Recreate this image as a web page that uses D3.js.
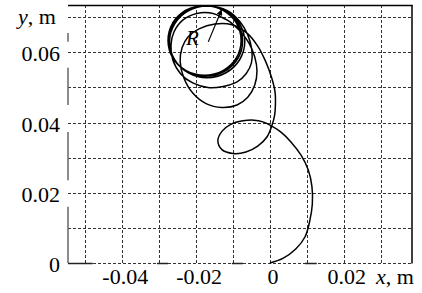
<!DOCTYPE html>
<html>
<head>
<meta charset="utf-8">
<script src="https://cdn.jsdelivr.net/npm/d3@7"></script>
<style>
  html, body { margin: 0; padding: 0; background: #fff; }
  svg { display: block; }
</style>
</head>
<body>
<svg id="chart" width="422" height="293"></svg>
<script>
// tick values & labels
const xTicks = [-0.04, -0.02, 0, 0.02];
const yTicks = [0, 0.02, 0.04, 0.06];
const xGrid = [-0.05, -0.04, -0.03, -0.02, -0.01, 0, 0.01, 0.02, 0.03];
const yGrid = [0, 0.01, 0.02, 0.03, 0.04, 0.05, 0.06, 0.07];

// pieces of the (scanned) axis lines that are still solid
const leftAxisBits = [[0.0630, 0.0655], [0.0450, 0.0556], [0.0236, 0.0373], [0, 0.0160]];
const bottomAxisBits = [[-0.0547, -0.0480], [-0.0306, -0.0276], [-0.0103, -0.0073], [0.0095, 0.0127]];

// trajectory x, y (m)
const path = [
  // first arc
  [0, 0], [0.0035, 0.0013], [0.0070, 0.0040], [0.0095, 0.0074], [0.0108, 0.0120],
  [0.0115, 0.0168], [0.0114, 0.0217], [0.0104, 0.0265], [0.0084, 0.0308],
  [0.0057, 0.0345], [0.0030, 0.0373], [0.0005, 0.0390],
  // small loop
  [-0.0019, 0.0402], [-0.0043, 0.0407], [-0.0073, 0.0405], [-0.0106, 0.0395],
  [-0.0130, 0.0375], [-0.0141, 0.0348], [-0.0130, 0.0323], [-0.0100, 0.0312],
  [-0.0065, 0.0316], [-0.0033, 0.0333], [-0.0008, 0.0359], [0.0005, 0.0390],
  [0.0013, 0.0422],
  // second loop
  [0.0015, 0.0453], [0.0014, 0.0487], [0.0005, 0.0527], [-0.0011, 0.0573],
  [-0.0033, 0.0618], [-0.0062, 0.0655], [-0.0103, 0.0679], [-0.0149, 0.0681],
  [-0.0192, 0.0667], [-0.0222, 0.0644], [-0.0238, 0.0613], [-0.0243, 0.0573],
  [-0.0233, 0.0527], [-0.0209, 0.0484], [-0.0173, 0.0454], [-0.0130, 0.0443],
  [-0.0089, 0.0450], [-0.0060, 0.0472], [-0.0041, 0.0507], [-0.0035, 0.0547],
  [-0.0041, 0.0587], [-0.0057, 0.0627], [-0.0081, 0.0661], [-0.0108, 0.0687],
  // third loop
  [-0.0127, 0.0698], [-0.0154, 0.0711], [-0.0198, 0.0711], [-0.0236, 0.0692],
  [-0.0260, 0.0658], [-0.0268, 0.0621], [-0.0263, 0.0578], [-0.0241, 0.0538],
  [-0.0209, 0.0513], [-0.0168, 0.0500], [-0.0127, 0.0503], [-0.0089, 0.0516],
  [-0.0064, 0.0540], [-0.0050, 0.0570], [-0.0049, 0.0607], [-0.0060, 0.0650],
  [-0.0081, 0.0687], [-0.0114, 0.0718],
  // settled circle, several turns
  [-0.0170, 0.0732], [-0.0221, 0.0718], [-0.0258, 0.0681], [-0.0272, 0.0630],
  [-0.0258, 0.0579], [-0.0221, 0.0542], [-0.0170, 0.0528], [-0.0119, 0.0542],
  [-0.0082, 0.0579], [-0.0068, 0.0630], [-0.0082, 0.0681], [-0.0119, 0.0718],
  [-0.0174, 0.0732], [-0.0224, 0.0719], [-0.0261, 0.0682], [-0.0274, 0.0632],
  [-0.0261, 0.0582], [-0.0224, 0.0545], [-0.0174, 0.0532], [-0.0124, 0.0545],
  [-0.0087, 0.0582], [-0.0074, 0.0632], [-0.0087, 0.0682], [-0.0124, 0.0719],
  [-0.0177, 0.0733], [-0.0227, 0.0720], [-0.0263, 0.0684], [-0.0276, 0.0634],
  [-0.0263, 0.0584], [-0.0227, 0.0548], [-0.0177, 0.0535], [-0.0127, 0.0548],
  [-0.0091, 0.0584], [-0.0078, 0.0634], [-0.0091, 0.0684], [-0.0127, 0.0720],
  [-0.0178, 0.0733], [-0.0228, 0.0720], [-0.0264, 0.0684]
];

// radius arrow (from near centre to the circle)
const arrowFrom = [-0.0167, 0.0630];
const arrowTo = [-0.0131, 0.0721];

const FONT = "Liberation Serif";

const svg = d3.select("#chart");

const x = d3.scaleLinear().domain([-0.0547, 0.0385]).range([68, 412]);
const y = d3.scaleLinear().domain([0, 0.0735]).range([263, 5]);

svg.append("defs")
  .append("marker")
  .attr("id", "head")
  .attr("viewBox", "0 -5 10 10")
  .attr("refX", 9)
  .attr("refY", 0)
  .attr("markerWidth", 8)
  .attr("markerHeight", 6)
  .attr("markerUnits", "userSpaceOnUse")
  .attr("orient", "auto")
  .append("path")
  .attr("d", "M0,-5L10,0L0,5Z")
  .attr("fill", "#000");

// grid
const grid = svg.append("g")
  .attr("stroke", "#333")
  .attr("stroke-width", 1)
  .attr("stroke-dasharray", "3,2");

grid.selectAll(".gx")
  .data(xGrid)
  .enter()
  .append("line")
  .attr("x1", (d) => Math.round(x(d)) + 0.5)
  .attr("x2", (d) => Math.round(x(d)) + 0.5)
  .attr("y1", y(0.0735))
  .attr("y2", y(0));

grid.selectAll(".gy")
  .data(yGrid)
  .enter()
  .append("line")
  .attr("x1", x(-0.0547))
  .attr("x2", x(0.0385))
  .attr("y1", (d) => Math.round(y(d)) + 0.5)
  .attr("y2", (d) => Math.round(y(d)) + 0.5);

// frame: top and right solid, left and bottom only in pieces
svg.append("line")
  .attr("x1", x(-0.0547)).attr("x2", x(0.0385) + 0.5)
  .attr("y1", y(0.0735) + 0.5).attr("y2", y(0.0735) + 0.5)
  .attr("stroke", "#000").attr("stroke-width", 1.5);

svg.append("line")
  .attr("x1", x(0.0385)).attr("x2", x(0.0385))
  .attr("y1", y(0.0735)).attr("y2", y(0) + 0.5)
  .attr("stroke", "#000").attr("stroke-width", 1.5);

svg.selectAll(".lbit")
  .data(leftAxisBits)
  .enter()
  .append("line")
  .attr("x1", x(-0.0547)).attr("x2", x(-0.0547))
  .attr("y1", (d) => y(d[0])).attr("y2", (d) => y(d[1]))
  .attr("stroke", "#666").attr("stroke-width", 1.5);

svg.selectAll(".bbit")
  .data(bottomAxisBits)
  .enter()
  .append("line")
  .attr("x1", (d) => x(d[0])).attr("x2", (d) => x(d[1]))
  .attr("y1", y(0) + 0.5).attr("y2", y(0) + 0.5)
  .attr("stroke", "#222").attr("stroke-width", 1.5);

// trajectory
const line = d3.line()
  .x((d) => x(d[0]))
  .y((d) => y(d[1]))
  .curve(d3.curveCatmullRom.alpha(0.5));

svg.append("path")
  .datum(path)
  .attr("d", line)
  .attr("fill", "none")
  .attr("stroke", "#000")
  .attr("stroke-width", 1.5)
  .attr("stroke-linejoin", "round");

// radius arrow + label
svg.append("line")
  .attr("x1", x(arrowFrom[0])).attr("y1", y(arrowFrom[1]))
  .attr("x2", x(arrowTo[0])).attr("y2", y(arrowTo[1]))
  .attr("stroke", "#000")
  .attr("stroke-width", 1.2)
  .attr("marker-end", "url(#head)");

svg.append("text")
  .attr("x", 186)
  .attr("y", 45)
  .attr("font-family", FONT)
  .attr("font-size", 21)
  .attr("font-style", "italic")
  .text("R");

// tick labels
svg.selectAll(".xl")
  .data(xTicks)
  .enter()
  .append("text")
  .attr("x", (d) => x(d) + 3)
  .attr("y", 284)
  .attr("text-anchor", "middle")
  .attr("font-family", FONT)
  .attr("font-size", 22)
  .text((d) => (d === 0 ? "0" : d3.format(".2f")(d).replace("−", "-")));

svg.selectAll(".yl")
  .data(yTicks)
  .enter()
  .append("text")
  .attr("x", 60)
  .attr("y", (d) => y(d) + 9)
  .attr("text-anchor", "end")
  .attr("font-family", FONT)
  .attr("font-size", 22)
  .text((d) => (d === 0 ? "0" : d3.format(".2f")(d)));

// axis names
const yName = svg.append("text")
  .attr("x", 18).attr("y", 24)
  .attr("font-family", FONT).attr("font-size", 22);
yName.append("tspan").attr("font-style", "italic").text("y");
yName.append("tspan").text(", m");

const xName = svg.append("text")
  .attr("x", 376).attr("y", 284)
  .attr("font-family", FONT).attr("font-size", 22);
xName.append("tspan").attr("font-style", "italic").text("x");
xName.append("tspan").text(", m");
</script>
</body>
</html>
